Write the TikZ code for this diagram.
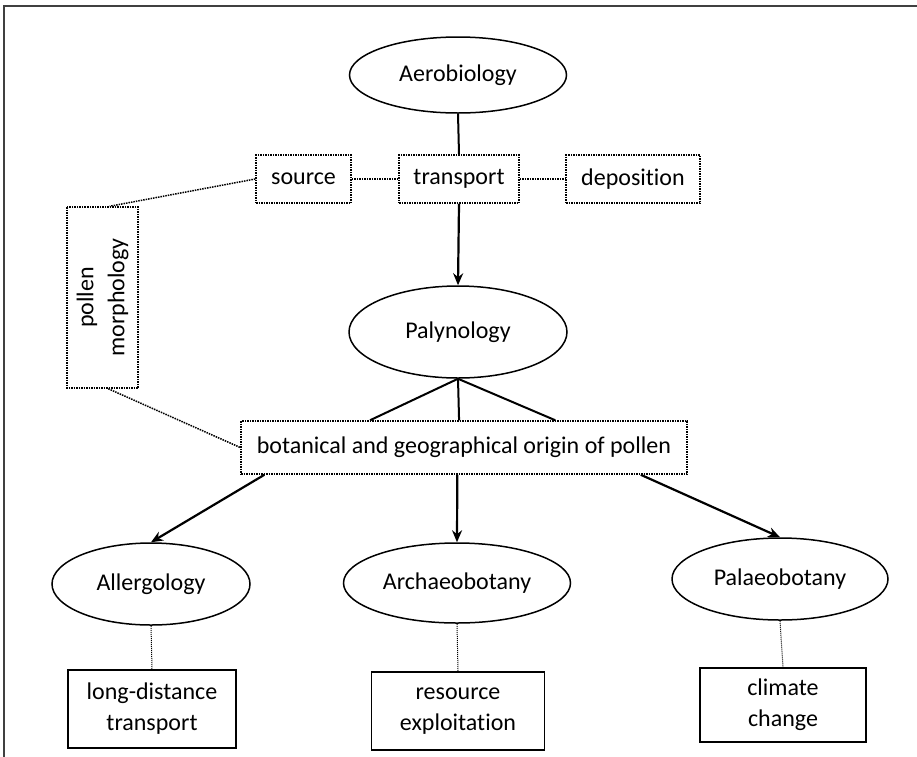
\documentclass[tikz,border=0pt]{standalone}
\usepackage{fontspec}
\setmainfont{Carlito}[Ligatures=NoCommon]
\usepackage{tikz}
\usetikzlibrary{arrows.meta, shapes.geometric, positioning, calc}
\tikzstyle{field} = [ellipse, draw, line width=1.5pt, inner sep=0pt]
\tikzstyle{topic} = [rectangle, draw, densely dotted, line width=1.5pt, inner sep=0pt, align=center]
\tikzstyle{result} = [rectangle, draw, line width=1.9pt, inner sep=0pt, align=center]
\tikzstyle{link} = [densely dotted, line width=1.5pt]
\tikzstyle{arrow} = [line width=2.2pt, -{Stealth[length=12pt, width=10pt]}]

\begin{document}
\begin{tikzpicture}[x=1pt, y=-1pt, font=\fontsize{24}{31}\selectfont]

    \useasboundingbox (0,0) rectangle (917,756);
    \draw[line width=2pt, black!75] (4,6) rectangle (940,780);

    % upper part
    \node[field, minimum width=217, minimum height=76] (aero) at (458,75) {Aerobiology};
    \node[topic, minimum width=95, minimum height=48] (src) at (303.5,179) {source};
    \node[topic, minimum width=120, minimum height=48] (trans) at (459,179) {transport};
    \node[topic, minimum width=134, minimum height=48] (depo) at (633,179) {deposition};
    \node[topic, rotate=90, minimum width=181, minimum height=71] (pm) at (102.5,297.5) {pollen\\morphology};

    \draw[line width=2pt] (aero.south) -- (trans.north);
    \draw[link] (src) -- (trans);
    \draw[link] (trans) -- (depo);
    \draw[link] (src.west) -- ($(pm.north east)!0.6!(pm.south east)$);

    \node[field, minimum width=218, minimum height=92] (paly) at (458,332) {Palynology};
    \draw[arrow] (trans.south) -- (paly.north);

    \node[topic, minimum width=446, minimum height=53] (bot) at (464,447.5) {botanical and geographical origin of pollen};
    \draw[link] ($(pm.north west)!0.58!(pm.south west)$) -- (bot.west);

    \foreach \f in {0.29,0.489,0.704} {
        \draw[line width=2pt] (paly.south) -- ($(bot.north west)!\f!(bot.north east)$);
    }

    % lower part
    \node[field, minimum width=198, minimum height=82] (allg) at (151,584) {Allergology};
    \node[field, minimum width=227, minimum height=80] (arch) at (457,583) {Archaeobotany};
    \node[field, minimum width=216, minimum height=82] (palb) at (780,579) {Palaeobotany};

    \draw[arrow] ($(bot.south west)!0.054!(bot.south east)$) -- (allg.north);
    \draw[arrow] ($(bot.south west)!0.485!(bot.south east)$) -- (arch.north);
    \draw[arrow] ($(bot.south west)!0.895!(bot.south east)$) -- (palb.north);

    \node[result, minimum width=168, minimum height=78] (ldt) at (152,709) {long-distance\\transport};
    \node[result, minimum width=173, minimum height=78] (res) at (458,711) {resource\\exploitation};
    \node[result, minimum width=166, minimum height=74] (clim) at (783,705) {climate\\change};

    \draw[densely dotted, line width=1pt] (allg.south) -- (ldt.north);
    \draw[densely dotted, line width=1pt] (arch.south) -- (res.north);
    \draw[densely dotted, line width=1pt] (palb.south) -- (clim.north);

\end{tikzpicture}
\end{document}
